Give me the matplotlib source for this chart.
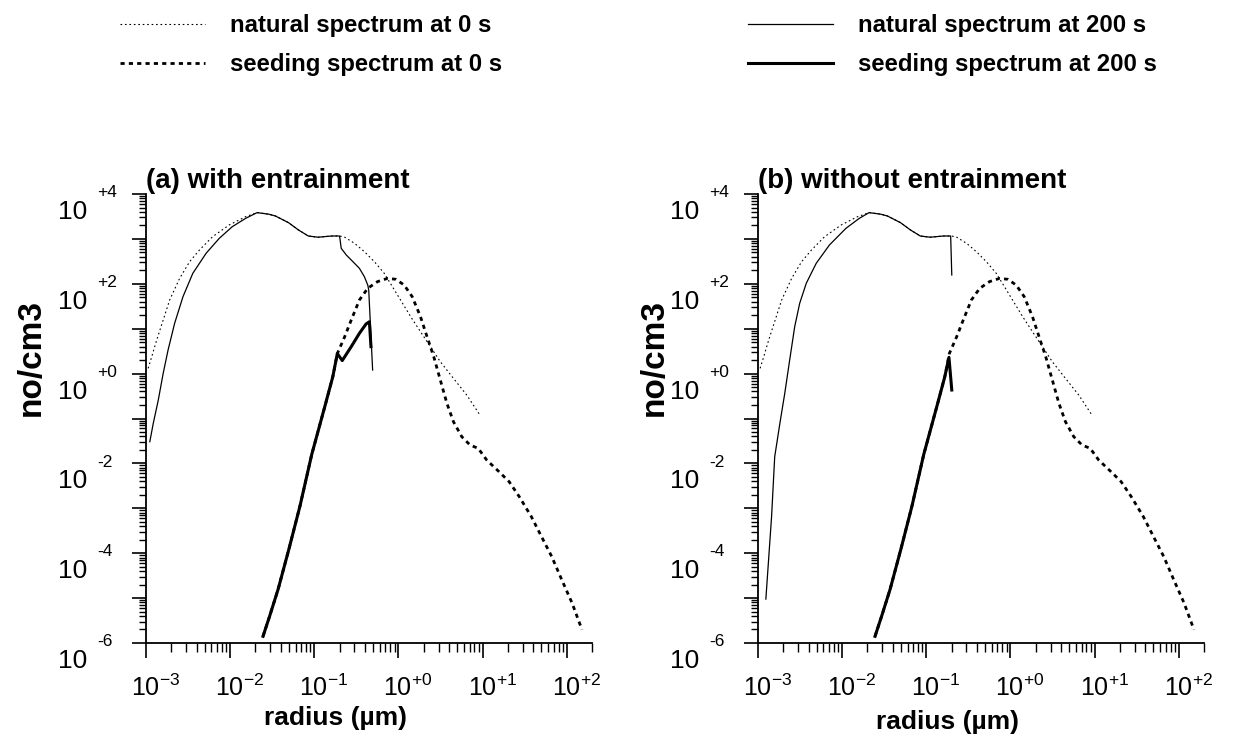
import numpy as np
import matplotlib.pyplot as plt
from matplotlib import ticker
from matplotlib.transforms import offset_copy, ScaledTranslation

plt.rcParams['font.family'] = ['Liberation Sans', 'DejaVu Sans']

# --- natural spectrum at 0 s (same initial spectrum in both runs) ---
nat0_r = [1.06e-3, 1.17e-3, 1.34e-3, 1.60e-3, 1.91e-3, 2.51e-3, 3.30e-3, 4.32e-3,
          6.19e-3, 9.73e-3, 1.53e-2, 2.09e-2, 2.88e-2, 3.45e-2, 4.94e-2, 6.49e-2,
          8.49e-2, 0.111, 0.160, 0.200, 0.230, 0.301, 0.394, 0.518, 0.679, 0.849,
          1.06, 1.40, 1.83, 2.40, 3.15, 4.51, 6.49, 9.29]
nat0_n = [1.31, 2.38, 5.60, 15.6, 43.6, 132, 311, 566,
          1120, 2040, 3130, 3850, 3550, 3240, 2300, 1580,
          1160, 1090, 1160, 1160, 1090, 798, 520, 311, 171, 86.3,
          43.6, 18.5, 8.59, 3.98, 1.84, 0.783, 0.333, 0.120]

# --- seeding spectrum at 0 s (same in both runs) ---
seed0_r = [2.46e-2, 2.95e-2, 3.72e-2, 5.01e-2, 6.76e-2, 9.33e-2, 0.135, 0.166, 0.188,
           0.230, 0.275, 0.344, 0.432, 0.566, 0.743, 0.931, 1.17, 1.46, 1.83, 2.19,
           2.63, 3.15, 3.77, 4.51, 5.66, 7.10, 8.89, 11.2, 15.7, 20.7, 27.3, 38.0,
           50.2, 66.4, 87.5, 116, 152]
seed0_n = [1.41e-6, 3.98e-6, 1.58e-5, 1.26e-4, 1.12e-3, 1.58e-2, 0.200, 0.851, 2.80,
           6.64, 15.6, 43.6, 79.3, 112, 132, 126, 94.0, 51.6, 18.5, 6.64,
           2.38, 0.719, 0.218, 0.0849, 0.0394, 0.0257, 0.0216, 0.0119, 6.53e-3, 3.92e-3,
           1.82e-3, 6.53e-4, 2.34e-4, 8.43e-5, 2.55e-5, 7.74e-6, 1.98e-6]

# --- (a) with entrainment, 200 s ---
nat200a_r = [1.11e-3, 1.22e-3, 1.40e-3, 1.60e-3, 1.83e-3, 2.19e-3, 2.75e-3, 3.60e-3,
             5.18e-3, 7.43e-3, 1.06e-2, 1.53e-2, 2.09e-2, 2.88e-2, 3.45e-2, 4.94e-2,
             6.49e-2, 8.49e-2, 0.111, 0.160, 0.200, 0.209, 0.240, 0.288, 0.344, 0.394,
             0.432, 0.444, 0.494]
nat200a_n = [0.0304, 0.078, 0.258, 1.01, 3.36, 13.2, 51.6, 171,
             478, 1030, 1870, 2870, 3850, 3550, 3240, 2300,
             1580, 1160, 1090, 1160, 1160, 618, 439, 311, 221, 144,
             94, 72.4, 1.20]
seed200a_r = [2.46e-2, 2.95e-2, 3.72e-2, 5.01e-2, 6.76e-2, 9.33e-2, 0.135, 0.166, 0.188,
              0.215, 0.275, 0.344, 0.412, 0.452, 0.472]
seed200a_n = [1.41e-6, 3.98e-6, 1.58e-5, 1.26e-4, 1.12e-3, 1.58e-2, 0.200, 0.851, 2.80,
              1.95, 3.98, 7.89, 12.7, 14.3, 3.98]

# --- (b) without entrainment, 200 s ---
nat200b_r = [1.24e-3, 1.45e-3, 1.58e-3, 1.82e-3, 2.08e-3, 2.38e-3, 2.73e-3, 3.13e-3,
             3.75e-3, 4.92e-3, 7.06e-3, 1.11e-2, 1.60e-2, 2.09e-2, 2.88e-2, 3.45e-2,
             4.94e-2, 6.49e-2, 8.49e-2, 0.111, 0.160, 0.195, 0.201]
nat200b_n = [9.5e-6, 6.53e-4, 1.41e-2, 7.80e-2, 0.363, 2.01, 11.1, 36.8,
             103, 286, 731, 1720, 2870, 3850, 3550, 3240,
             2300, 1580, 1160, 1090, 1160, 1160, 157]
seed200b_r = [2.46e-2, 2.95e-2, 3.72e-2, 5.01e-2, 6.76e-2, 9.33e-2, 0.135, 0.166, 0.186, 0.201]
seed200b_n = [1.41e-6, 3.98e-6, 1.58e-5, 1.26e-4, 1.12e-3, 1.58e-2, 0.200, 0.851, 2.30, 0.431]

Y_LABEL_EXPS = [-6, -4, -2, 0, 2, 4]
LABELS = ['natural spectrum at 0 s', 'seeding spectrum at 0 s',
          'natural spectrum at 200 s', 'seeding spectrum at 200 s']

NAT0 = dict(color='black', lw=0.8, ls=(0, (1.5, 2.5)))
SEED0 = dict(color='black', lw=2.0, ls=(0, (1.5, 1.5)))
NAT200 = dict(color='black', lw=0.9, ls='-')
SEED200 = dict(color='black', lw=2.2, ls='-')

fig = plt.figure(figsize=(12.53, 7.44), dpi=100)
W, H = 1253, 744
ax_a = fig.add_axes([146 / W, 101 / H, 446 / W, 449 / H])
ax_b = fig.add_axes([758 / W, 101 / H, 446 / W, 449 / H])


def exp_fmt(v, pos):
    e = int(round(np.log10(v)))
    return r'$\mathregular{10^{%+d}}$' % e


def setup(ax, title, ylab_x, xlab_y):
    ax.set_xscale('log')
    ax.set_yscale('log')
    ax.set_xlim(1e-3, 2e2)
    ax.set_ylim(1e-6, 1e4)
    ax.patch.set_alpha(0)
    for s in ['top', 'right']:
        ax.spines[s].set_visible(False)
    for s in ['left', 'bottom']:
        ax.spines[s].set_linewidth(1.3)
    for axis in (ax.xaxis, ax.yaxis):
        axis.set_major_locator(ticker.LogLocator(base=10, subs=(1.0,), numticks=30))
        axis.set_minor_locator(ticker.LogLocator(base=10, subs=np.arange(2, 10), numticks=100))
    ax.xaxis.set_major_formatter(ticker.FuncFormatter(exp_fmt))
    ax.xaxis.set_minor_formatter(ticker.NullFormatter())
    ax.yaxis.set_major_formatter(ticker.NullFormatter())
    ax.yaxis.set_minor_formatter(ticker.NullFormatter())
    ax.tick_params(axis='x', which='major', direction='out', length=11, width=1.2,
                   labelsize=18, pad=12)
    ax.tick_params(axis='x', which='minor', direction='out', length=6.5, width=1.0)
    ax.tick_params(axis='y', which='major', direction='out', length=10, width=1.2)
    ax.tick_params(axis='y', which='minor', direction='out', length=5, width=1.0)
    shift = ScaledTranslation(7 / 72, 0, fig.dpi_scale_trans)
    for lab in ax.get_xticklabels():
        lab.set_transform(lab.get_transform() + shift)

    # y tick labels drawn as "10" with a raised exponent
    base_tr = offset_copy(ax.get_yaxis_transform(), fig=fig, x=-42, y=-13, units='points')
    exp_tr = offset_copy(ax.get_yaxis_transform(), fig=fig, x=-35, y=1, units='points')
    for e in Y_LABEL_EXPS:
        ax.text(0, 10.0 ** e, '10', transform=base_tr, ha='right', va='center', fontsize=19)
        ax.text(0, 10.0 ** e, '%+d' % e, transform=exp_tr, ha='left', va='center', fontsize=12.5)

    ax.set_title(title, loc='left', fontsize=20, fontweight='bold', pad=4)
    ax.set_ylabel('no/cm3', fontsize=24, fontweight='bold')
    ax.yaxis.set_label_coords(ylab_x, 0.635)
    ax.set_xlabel('radius (µm)', fontsize=19, fontweight='bold')
    ax.xaxis.set_label_coords(0.424, xlab_y)


# panel (a)
h1, = ax_a.plot(nat0_r, nat0_n, **NAT0)
h2, = ax_a.plot(seed0_r, seed0_n, **SEED0)
h3, = ax_a.plot(nat200a_r, nat200a_n, **NAT200)
h4, = ax_a.plot(seed200a_r, seed200a_n, **SEED200)
setup(ax_a, '(a) with entrainment', -0.222, -0.14)

# panel (b)
ax_b.plot(nat0_r, nat0_n, **NAT0)
ax_b.plot(seed0_r, seed0_n, **SEED0)
ax_b.plot(nat200b_r, nat200b_n, **NAT200)
ax_b.plot(seed200b_r, seed200b_n, **SEED200)
setup(ax_b, '(b) without entrainment', -0.198, -0.15)

fig.legend([h1, h2, h3, h4], LABELS, ncol=2, loc='upper left',
           bbox_to_anchor=(120 / W, 1 - 14 / H), frameon=False,
           prop={'weight': 'bold', 'size': 17.2}, handlelength=3.55,
           handletextpad=1.05, columnspacing=10.3, labelspacing=0.68,
           borderpad=0, borderaxespad=0)

fig.savefig('out.png', dpi=100)
